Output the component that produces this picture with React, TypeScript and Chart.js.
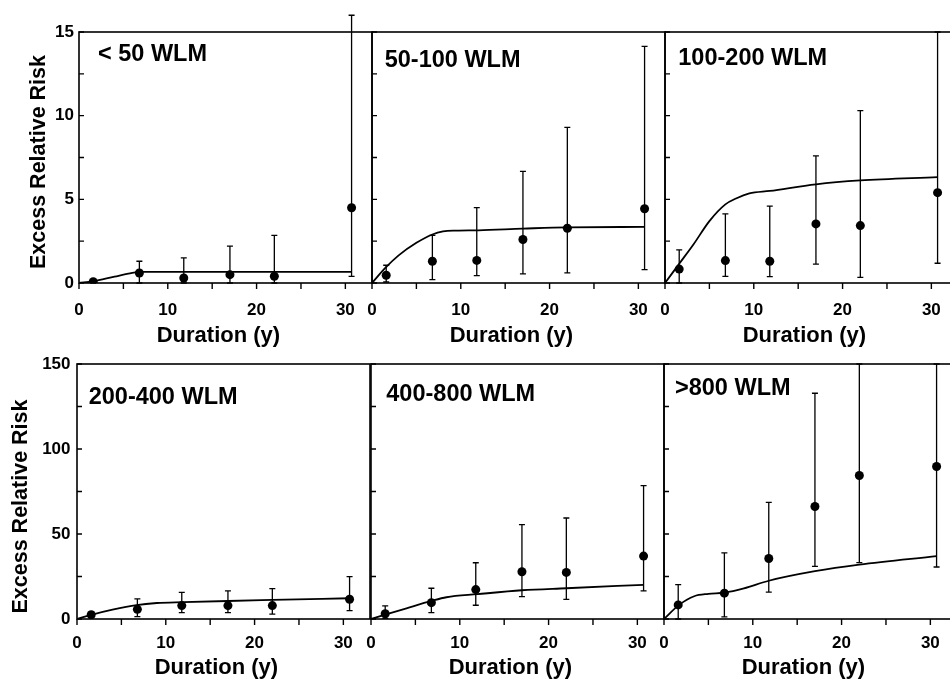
import React, { useEffect, useRef } from 'react';
import { Chart, registerables } from 'chart.js';

Chart.register(...registerables);

const FONT = '"Liberation Sans", Arial, Helvetica, sans-serif';

// ---- shared axis data ----
const durationMidpoints = [1.6, 6.8, 11.8, 17.0, 22.0, 30.7];
const durationTicks = [0, 5, 10, 15, 20, 25, 30];
const durationLabels = [0, 10, 20, 30];
const durationMax = 33;
const riskTicksTop = [0, 2.5, 5, 7.5, 10, 12.5, 15];
const riskLabelsTop = [0, 5, 10, 15];
const riskTicksBottom = [0, 25, 50, 75, 100, 125, 150];
const riskLabelsBottom = [0, 50, 100, 150];
const xAxisTitle = 'Duration (y)';
const yAxisTitle = 'Excess Relative Risk';

// ---- < 50 WLM ----
const errLt50 = [0.08, 0.6, 0.3, 0.5, 0.4, 4.5];
const lowerLt50 = [0.0, 0.0, 0.0, 0.0, 0.0, 0.4];
const upperLt50 = [0.15, 1.3, 1.5, 2.2, 2.85, 16.0];
const fitXLt50 = [0, 1.6, 4, 6, 7, 8, 10, 30.7];
const fitYLt50 = [0, 0.1, 0.38, 0.6, 0.66, 0.67, 0.67, 0.67];

// ---- 50-100 WLM ----
const err50to100 = [0.46, 1.3, 1.35, 2.6, 3.27, 4.44];
const lower50to100 = [0.06, 0.2, 0.44, 0.54, 0.6, 0.8];
const upper50to100 = [1.06, 2.85, 4.5, 6.67, 9.3, 14.14];
const fitX50to100 = [0, 1.5, 3, 5, 6.8, 8, 9.5, 12, 17, 22, 30.7];
const fitY50to100 = [0, 0.9, 1.65, 2.4, 2.9, 3.08, 3.13, 3.15, 3.25, 3.33, 3.35];

// ---- 100-200 WLM ----
const err100to200 = [0.83, 1.34, 1.3, 3.53, 3.43, 5.4];
const lower100to200 = [0.0, 0.4, 0.38, 1.13, 0.34, 1.18];
const upper100to200 = [1.98, 4.13, 4.6, 7.6, 10.3, 15];
const fitX100to200 = [0, 1.6, 3.2, 5, 6.8, 8, 9.5, 11.8, 17, 22, 30.7];
const fitY100to200 = [0, 1.15, 2.3, 3.7, 4.7, 5.05, 5.35, 5.5, 5.9, 6.13, 6.33];

// ---- 200-400 WLM ----
const err200to400 = [2.5, 5.7, 7.9, 7.9, 7.9, 11.6];
const lower200to400 = [1.0, 1.4, 3.7, 3.7, 2.9, 4.9];
const upper200to400 = [4.0, 11.8, 15.7, 16.5, 17.9, 24.9];
const fitX200to400 = [0, 1.5, 4, 6.7, 9, 12, 17, 22, 30.7];
const fitY200to400 = [0, 2.3, 5.5, 8.2, 9.4, 9.9, 10.6, 11.2, 12.2];

// ---- 400-800 WLM ----
const err400to800 = [3.1, 9.6, 17.3, 27.8, 27.4, 37.0];
const lower400to800 = [0.4, 3.7, 8.1, 13.2, 11.6, 16.5];
const upper400to800 = [7.7, 18.1, 33.1, 55.5, 59.4, 78.5];
const fitX400to800 = [0, 1.5, 4, 6.8, 8.5, 12, 17, 22, 30.7];
const fitY400to800 = [0, 2.4, 6.3, 10.6, 12.8, 14.6, 16.9, 18.1, 20.1];

// ---- >800 WLM ----
const errGt800 = [8.3, 15.2, 35.6, 66.2, 84.4, 89.7];
const lowerGt800 = [0.0, 1.2, 15.8, 31.0, 33.2, 30.6];
const upperGt800 = [20.2, 38.9, 68.6, 132.8, 150, 150];
const fitXGt800 = [0, 1.7, 3.4, 5, 6.8, 9, 11.8, 17, 22, 30.7];
const fitYGt800 = [0, 8.3, 13.4, 14.8, 15.5, 18, 22.5, 28.1, 32, 37];

type PanelProps = {
  title: string;
  err: number[];
  lower: number[];
  upper: number[];
  fitX: number[];
  fitY: number[];
  yMax: number;
  yTicks: number[];
  yLabels: number[];
  showY: boolean;
  plotLeft: number;
  plotTop: number;
  plotW: number;
  plotH: number;
  ml: number;
  xPad: number;
  yPad: number;
  titleDx: number;
  titleDy: number;
  xTitleDy: number;
  yTitleDx: number;
  yTitleDy: number;
};

const MT = 30;
const MR = 10;
const MB = 80;

function Panel(p: PanelProps) {
  const ref = useRef<HTMLCanvasElement | null>(null);
  const cw = p.ml + p.plotW + MR;
  const ch = MT + p.plotH + MB;

  useEffect(() => {
    const decor = {
      id: 'decor',
      afterDatasetsDraw(chart: any) {
        const { ctx, chartArea: a } = chart;
        const x = chart.scales.x;
        const y = chart.scales.y;
        ctx.save();
        ctx.strokeStyle = '#000';
        ctx.fillStyle = '#000';
        // error bars
        ctx.lineWidth = 1.3;
        durationMidpoints.forEach((d, i) => {
          const px = x.getPixelForValue(d);
          const top = y.getPixelForValue(p.upper[i]);
          const bot = y.getPixelForValue(p.lower[i]);
          ctx.beginPath();
          ctx.moveTo(px, top);
          ctx.lineTo(px, bot);
          ctx.moveTo(px - 3, top);
          ctx.lineTo(px + 3, top);
          ctx.moveTo(px - 3, bot);
          ctx.lineTo(px + 3, bot);
          ctx.stroke();
        });
        // frame
        ctx.lineWidth = 1.6;
        ctx.strokeRect(a.left, a.top, a.right - a.left, a.bottom - a.top);
        // x ticks (outward)
        ctx.lineWidth = 1.4;
        ctx.beginPath();
        durationTicks.forEach((v) => {
          const px = x.getPixelForValue(v);
          ctx.moveTo(px, a.bottom);
          ctx.lineTo(px, a.bottom + 6);
        });
        // y ticks (inward)
        p.yTicks.forEach((v) => {
          const py = y.getPixelForValue(v);
          ctx.moveTo(a.left, py);
          ctx.lineTo(a.left + 5, py);
        });
        ctx.stroke();
        // panel label
        ctx.font = `bold 23.5px ${FONT}`;
        ctx.textAlign = 'left';
        ctx.textBaseline = 'alphabetic';
        ctx.fillText(p.title, a.left + p.titleDx, a.top + p.titleDy);
        // x title
        ctx.font = `bold 22px ${FONT}`;
        ctx.textAlign = 'center';
        ctx.fillText(xAxisTitle, x.getPixelForValue(15.7), a.bottom + p.xTitleDy);
        // y title
        if (p.showY) {
          ctx.font = `bold 21.5px ${FONT}`;
          ctx.translate(a.left - p.yTitleDx, (a.top + a.bottom) / 2 + p.yTitleDy);
          ctx.rotate(-Math.PI / 2);
          ctx.textBaseline = 'middle';
          ctx.fillText(yAxisTitle, 0, 0);
        }
        ctx.restore();
      },
    };

    const chart = new Chart(ref.current as HTMLCanvasElement, {
      type: 'scatter',
      data: {
        datasets: [
          {
            type: 'line',
            data: p.fitX.map((xv, i) => ({ x: xv, y: p.fitY[i] })),
            borderColor: '#000',
            borderWidth: 1.8,
            pointRadius: 0,
            cubicInterpolationMode: 'monotone',
            fill: false,
            order: 2,
          } as any,
          {
            type: 'scatter',
            data: durationMidpoints.map((xv, i) => ({ x: xv, y: p.err[i] })),
            backgroundColor: '#000',
            borderColor: '#000',
            borderWidth: 0,
            pointRadius: 4.5,
            order: 1,
          } as any,
        ],
      },
      options: {
        animation: false,
        responsive: false,
        maintainAspectRatio: false,
        layout: { padding: { top: MT, right: MR, left: 0, bottom: 0 } },
        plugins: { legend: { display: false }, tooltip: { enabled: false } },
        scales: {
          x: {
            type: 'linear',
            min: 0,
            max: durationMax,
            grid: { display: false, drawTicks: false },
            border: { display: false },
            afterBuildTicks: (s: any) => {
              s.ticks = durationTicks.map((v) => ({ value: v }));
            },
            afterFit: (s: any) => {
              s.height = MB;
            },
            ticks: {
              padding: p.xPad,
              autoSkip: false,
              maxRotation: 0,
              color: '#000',
              font: { family: FONT, size: 17, weight: 'bold' },
              callback: (v: any) => (durationLabels.includes(Number(v)) ? String(v) : ''),
            },
          } as any,
          y: {
            type: 'linear',
            min: 0,
            max: p.yMax,
            grid: { display: false, drawTicks: false },
            border: { display: false },
            afterBuildTicks: (s: any) => {
              s.ticks = p.yTicks.map((v) => ({ value: v }));
            },
            afterFit: (s: any) => {
              s.width = p.ml;
            },
            ticks: {
              display: p.showY,
              padding: p.yPad,
              autoSkip: false,
              color: '#000',
              font: { family: FONT, size: 17, weight: 'bold' },
              callback: (v: any) => (p.yLabels.includes(Number(v)) ? String(v) : ''),
            },
          } as any,
        },
      },
      plugins: [decor],
    });
    return () => chart.destroy();
  }, []);

  return (
    <canvas
      ref={ref}
      width={cw}
      height={ch}
      style={{
        position: 'absolute',
        left: p.plotLeft - p.ml,
        top: p.plotTop - MT,
        width: cw,
        height: ch,
      }}
    />
  );
}

const topRow = { plotTop: 32, plotH: 251, xPad: 17.5, xTitleDy: 59, yPad: 5, yMax: 15, yTicks: riskTicksTop, yLabels: riskLabelsTop };
const bottomRow = { plotTop: 364, plotH: 255, xPad: 14.5, xTitleDy: 54.5, yPad: 6.5, yMax: 150, yTicks: riskTicksBottom, yLabels: riskLabelsBottom };

export default function App() {
  return (
    <div
      style={{
        position: 'absolute',
        left: 0,
        top: 0,
        width: 950,
        height: 679,
        overflow: 'hidden',
        background: '#fff',
      }}
    >
      <Panel {...topRow} title="< 50 WLM" err={errLt50} lower={lowerLt50} upper={upperLt50} fitX={fitXLt50} fitY={fitYLt50}
        showY={true} plotLeft={79} plotW={293} ml={79} titleDx={19} titleDy={28.5} yTitleDx={40} yTitleDy={4.5} />
      <Panel {...topRow} title="50-100 WLM" err={err50to100} lower={lower50to100} upper={upper50to100} fitX={fitX50to100} fitY={fitY50to100}
        showY={false} plotLeft={372} plotW={293} ml={30} titleDx={12.7} titleDy={35} yTitleDx={0} yTitleDy={0} />
      <Panel {...topRow} title="100-200 WLM" err={err100to200} lower={lower100to200} upper={upper100to200} fitX={fitX100to200} fitY={fitY100to200}
        showY={false} plotLeft={665} plotW={293} ml={30} titleDx={13.3} titleDy={33.3} yTitleDx={0} yTitleDy={0} />
      <Panel {...bottomRow} title="200-400 WLM" err={err200to400} lower={lower200to400} upper={upper200to400} fitX={fitX200to400} fitY={fitY200to400}
        showY={true} plotLeft={77} plotW={293} ml={77} titleDx={11.7} titleDy={40} yTitleDx={56} yTitleDy={15} />
      <Panel {...bottomRow} title="400-800 WLM" err={err400to800} lower={lower400to800} upper={upper400to800} fitX={fitX400to800} fitY={fitY400to800}
        showY={false} plotLeft={371} plotW={293} ml={30} titleDx={15.3} titleDy={36.7} yTitleDx={0} yTitleDy={0} />
      <Panel {...bottomRow} title=">800 WLM" err={errGt800} lower={lowerGt800} upper={upperGt800} fitX={fitXGt800} fitY={fitYGt800}
        showY={false} plotLeft={664} plotW={293} ml={30} titleDx={11} titleDy={30.7} yTitleDx={0} yTitleDy={0} />
    </div>
  );
}
